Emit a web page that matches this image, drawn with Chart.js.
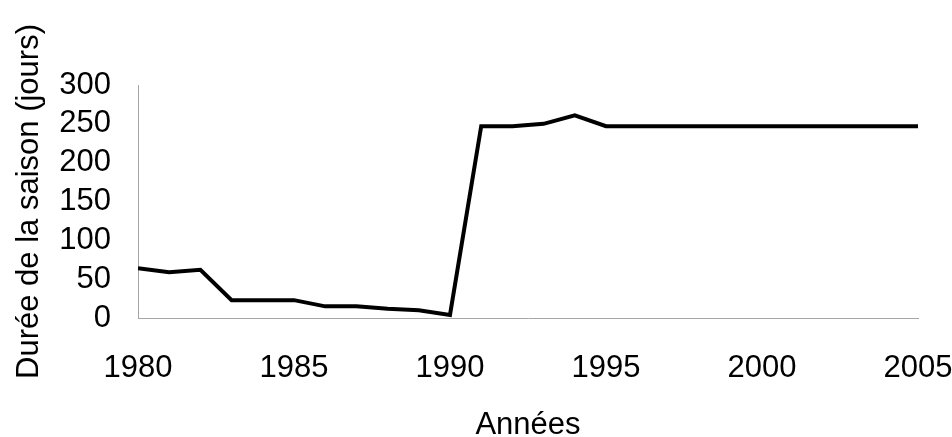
<!DOCTYPE html>
<html>
<head>
<meta charset="utf-8">
<script src="https://cdn.jsdelivr.net/npm/chart.js"></script>
<style>
  html, body { margin: 0; padding: 0; background: #fff; }
  #wrap { width: 952px; height: 437px; }
</style>
</head>
<body>
<div id="wrap"><canvas id="chart" width="952" height="437"></canvas></div>
<script>
const years = [1980, 1981, 1982, 1983, 1984, 1985, 1986, 1987, 1988, 1989, 1990, 1991, 1992,
  1993, 1994, 1995, 1996, 1997, 1998, 1999, 2000, 2001, 2002, 2003, 2004, 2005];
const seasonDays = [64, 59, 62, 23, 23, 23, 15, 15, 12, 10, 4, 247, 247,
  250, 261, 247, 247, 247, 247, 247, 247, 247, 247, 247, 247, 247];
const xTitle = 'Années';
const yTitle = 'Durée de la saison (jours)';

const font = { family: '"Liberation Sans", Arial, sans-serif', size: 31 };

new Chart(document.getElementById('chart'), {
  type: 'line',
  data: {
    datasets: [{
      data: years.map((y, i) => ({ x: y, y: seasonDays[i] })),
      borderColor: '#000',
      borderWidth: 4,
      pointRadius: 0,
      tension: 0,
      fill: false
    }]
  },
  options: {
    responsive: false,
    animation: false,
    layout: { padding: { top: 85, right: 0, left: 11, bottom: 0 } },
    plugins: { legend: { display: false }, tooltip: { enabled: false } },
    scales: {
      x: {
        type: 'linear',
        min: 1980, max: 2005,
        grid: { display: false },
        border: { display: true, color: '#a6a6a6', width: 1 },
        ticks: { stepSize: 5, color: '#000', font, padding: 24, maxRotation: 0,
                 autoSkip: false, callback: v => String(v) },
        title: { display: true, text: xTitle, color: '#000', font, padding: { top: 0, bottom: -7 } },
        afterFit: s => { s.height = 437 - 318; s.paddingRight = 34; s.paddingLeft = 0; }
      },
      y: {
        min: 0, max: 300,
        grid: { display: false },
        border: { display: true, color: '#a6a6a6', width: 1 },
        ticks: { stepSize: 50, color: '#000', font, padding: 19, autoSkip: false },
        title: { display: true, text: yTitle, color: '#000', font, padding: 0 },
        afterFit: s => { s.width = 138 - 11; }
      }
    }
  }
});
</script>
</body>
</html>
